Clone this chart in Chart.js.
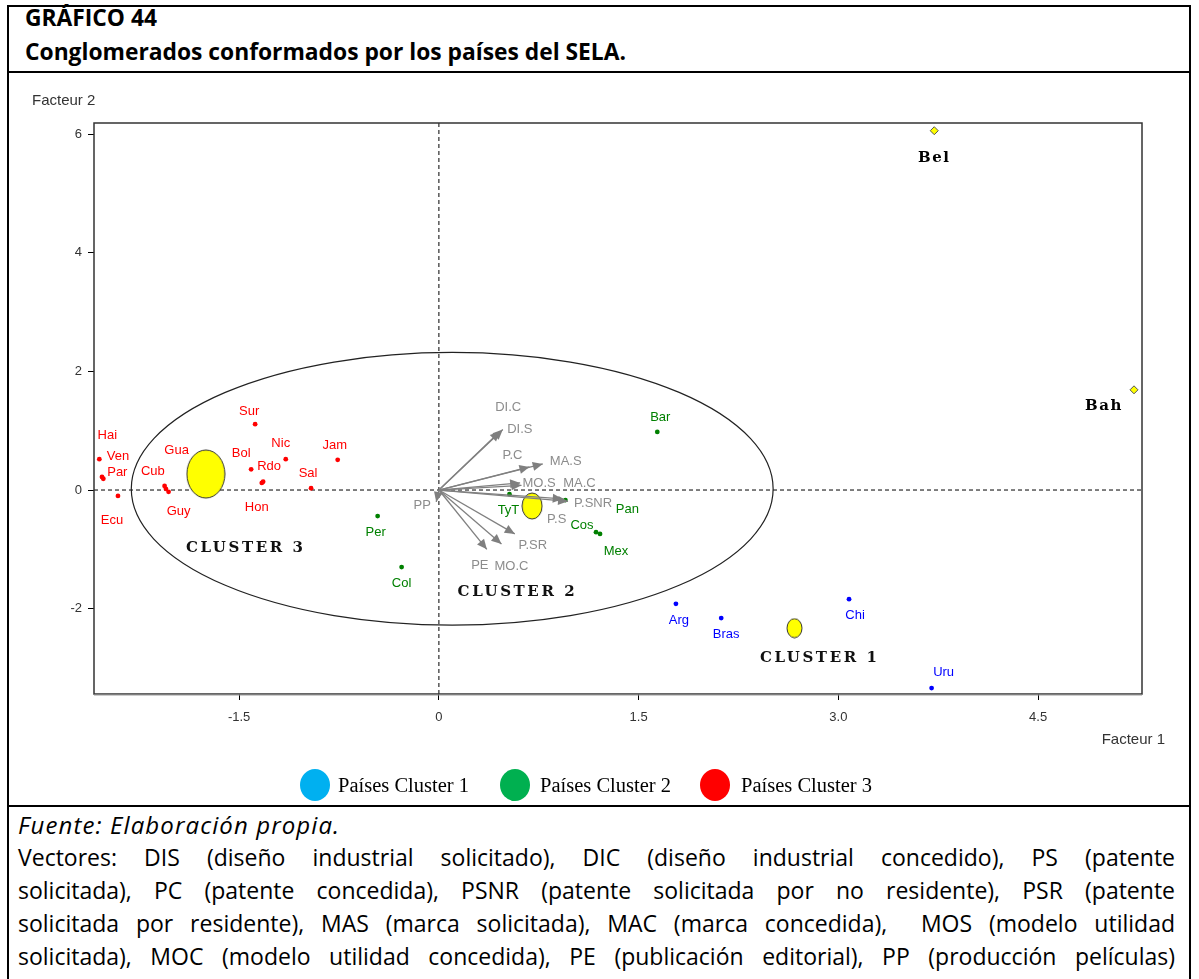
<!DOCTYPE html>
<html lang="es">
<head>
<meta charset="utf-8">
<title>Gráfico 44</title>
<script src="https://cdn.jsdelivr.net/npm/chart.js@4.4.1/dist/chart.umd.min.js"></script>
<style>
  body { margin: 0; background: #fff; width: 1199px; height: 979px; position: relative; overflow: hidden; font-family: 'Open Sans', sans-serif; }
  .abs { position: absolute; }
  #frame { left: 7px; top: 5px; width: 1180px; height: 990px; border: 2px solid #000; border-bottom: none; }
  .rule { left: 7px; width: 1184px; height: 2px; background: #000; }
  .title { left: 25px; font-weight: 700; font-size: 22.8px; line-height: 30px; color: #000; white-space: nowrap; }
  #chartBox { left: 8px; top: 74px; }
  #legend { left: 0; top: 769px; width: 1199px; height: 32px; }
  .dot { position: absolute; width: 30px; height: 32px; border-radius: 50%; top: 0; }
  .leg { position: absolute; top: 0; line-height: 32px; font-family: 'Liberation Serif', 'Times New Roman', serif; font-size: 20.5px; color: #000; white-space: nowrap; }
  #fuente { left: 18px; top: 810px; font-style: italic; font-size: 24px; letter-spacing: 1.1px; line-height: 30px; white-space: nowrap; }
  #notes { left: 18px; top: 841px; width: 1157px; font-size: 23px; line-height: 33px; color: #000; }
  #notes div { text-align: justify; text-align-last: justify; white-space: nowrap; }
</style>
</head>
<body>
<div id="frame" class="abs"></div>
<div class="abs title" style="top:3px">GRÁFICO 44</div>
<div class="abs title" style="top:37px">Conglomerados conformados por los países del SELA.</div>
<div class="abs rule" style="top:71px"></div>
<div id="chartBox" class="abs"><canvas id="chart" width="1182" height="731"></canvas></div>
<div id="legend" class="abs">
  <div class="dot" style="left:300px;background:#00b0f0"></div><div class="leg" style="left:338px">Países Cluster 1</div>
  <div class="dot" style="left:500px;background:#00b050"></div><div class="leg" style="left:540px">Países Cluster 2</div>
  <div class="dot" style="left:700px;background:#ff0000"></div><div class="leg" style="left:741px">Países Cluster 3</div>
</div>
<div class="abs rule" style="top:805px"></div>
<div id="fuente" class="abs">Fuente: Elaboración propia.</div>
<div id="notes" class="abs">
  <div>Vectores: DIS (diseño industrial solicitado), DIC (diseño industrial concedido), PS (patente</div>
  <div>solicitada), PC (patente concedida), PSNR (patente solicitada por no residente), PSR (patente</div>
  <div>solicitada por residente), MAS (marca solicitada), MAC (marca concedida),&nbsp; MOS (modelo utilidad</div>
  <div>solicitada), MOC (modelo utilidad concedida), PE (publicación editorial), PP (producción películas)</div>
</div>

<script>
// axes
const xTicks = [-1.5, 0, 1.5, 3.0, 4.5]
const yTicks = [-2, 0, 2, 4, 6]
const xRange = [-2.59, 5.28]
const yRange = [-3.44, 6.19]

// países por cluster (Facteur 1, Facteur 2)
const cluster1Names = ['Arg', 'Bras', 'Chi', 'Uru']
const cluster1F1 = [1.78, 2.12, 3.08, 3.70]
const cluster1F2 = [-1.92, -2.16, -1.84, -3.34]

const cluster2Names = ['Per', 'Col', 'TyT', 'Bar', 'Pan', 'Cos', 'Mex']
const cluster2F1 = [-0.46, -0.28, 0.53, 1.64, 0.95, 1.18, 1.21]
const cluster2F2 = [-0.44, -1.30, -0.07, 0.98, -0.17, -0.71, -0.74]

const cluster3Names = ['Hai', 'Ven', 'Par', 'Ecu', 'Gua', 'Cub', 'Guy', 'Sur', 'Bol', 'Nic', 'Rdo', 'Hon', 'Sal', 'Jam']
const cluster3F1 = [-2.55, -2.53, -2.52, -2.41, -2.06, -2.05, -2.03, -1.38, -1.41, -1.15, -1.32, -1.33, -0.96, -0.76]
const cluster3F2 = [0.52, 0.22, 0.19, -0.10, 0.07, 0.02, -0.03, 1.11, 0.35, 0.52, 0.14, 0.12, 0.03, 0.51]

const outlierNames = ['Bel', 'Bah']
const outlierF1 = [3.72, 5.22]
const outlierF2 = [6.06, 1.69]

// centros de los conglomerados: cluster 1, 2, 3
const centroidF1 = [2.67, 0.70, -1.75]
const centroidF2 = [-2.33, -0.27, 0.27]
const clusterTitles = ['CLUSTER 1', 'CLUSTER 2', 'CLUSTER 3']
const clusterTitleF1 = [2.86, 0.59, -1.45]
const clusterTitleF2 = [-2.84, -1.72, -0.98]

// vectores
const vectorNames = ['DI.C', 'DI.S', 'P.C', 'MA.S', 'MO.S', 'MA.C', 'P.SNR', 'P.S', 'P.SR', 'MO.C', 'PE', 'PP']
const vectorF1 = [0.46, 0.48, 0.68, 0.78, 0.61, 0.62, 0.97, 0.93, 0.57, 0.47, 0.36, -0.02]
const vectorF2 = [0.99, 1.02, 0.39, 0.44, 0.12, 0.08, -0.19, -0.15, -0.74, -0.91, -1.00, -0.20]

// elipse del cluster 2: centro x, centro y, radio x, radio y
const clusterEllipse = [0.10, 0.02, 2.41, 2.30]

// label placement (pixel offsets from the mark)
const cluster1Offsets = [[3, 17], [5, 16], [6, 16], [12, -16]]
const cluster2Offsets = [[-2, 16], [0, 16], [-1, 16], [3, -14], [62, 9], [-14, -7], [16, 18]]
const cluster3Offsets = [[8, -24], [16, -21], [14, -6], [-6, 24], [12, -35], [-13, -17], [10, 20],
  [-6, -13], [-10, -16], [-5, -16], [6, -15], [-5, 25], [-3, -15], [-3, -14]]
const outlierOffsets = [[0, 27], [-30, 16]]
const vectorOffsets = [[8, -24], [17, 0], [-17, -11], [23, -3], [19, 1], [58, -2], [25, 2], [-6, 20],
  [18, 12], [10, 22], [-7, 16], [-14, 4]]

const toPoints = (xs, ys) => xs.map((v, i) => ({x: v, y: ys[i]}))

const makeBlob = (w, h) => {
  const c = document.createElement('canvas')
  c.width = w + 2
  c.height = h + 2
  const g = c.getContext('2d')
  g.beginPath()
  g.ellipse(c.width / 2, c.height / 2, w / 2, h / 2, 0, 0, Math.PI * 2)
  g.fillStyle = '#ffff00'
  g.fill()
  g.strokeStyle = '#333'
  g.lineWidth = 1
  g.stroke()
  return c
}
const blobs = [makeBlob(15, 19), makeBlob(20, 26), makeBlob(38, 48)]

const labelFont = '13px "Liberation Sans", Arial, sans-serif'
const serifBold = 'bold 15px "DejaVu Serif", serif'

const vectorSets = vectorNames.map((name, i) => ({
  type: 'line',
  data: [{x: 0, y: 0}, {x: vectorF1[i], y: vectorF2[i]}],
  borderColor: '#808080',
  borderWidth: 1.3,
  pointRadius: 0,
  names: [name],
  offsets: [vectorOffsets[i]],
  labelColor: '#8c8c8c',
  labelFont: labelFont,
  arrow: true
}))

const pointSet = (names, xs, ys, offsets, color) => ({
  data: toPoints(xs, ys),
  pointStyle: 'circle',
  pointRadius: 2.4,
  backgroundColor: color,
  borderColor: color,
  borderWidth: 0,
  names: names,
  offsets: offsets,
  labelColor: color,
  labelFont: labelFont
})

const datasets = [
  ...vectorSets,
  {
    data: toPoints(centroidF1, centroidF2),
    pointStyle: blobs,
    pointRadius: 10
  },
  pointSet(cluster1Names, cluster1F1, cluster1F2, cluster1Offsets, '#0000ff'),
  pointSet(cluster2Names, cluster2F1, cluster2F2, cluster2Offsets, '#008000'),
  pointSet(cluster3Names, cluster3F1, cluster3F2, cluster3Offsets, '#ff0000'),
  {
    data: toPoints(outlierF1, outlierF2),
    pointStyle: 'rectRot',
    pointRadius: 4,
    backgroundColor: '#ffff00',
    borderColor: '#555',
    borderWidth: 1,
    names: outlierNames,
    offsets: outlierOffsets,
    labelColor: '#000',
    labelFont: serifBold,
    spacing: '1.5px'
  }
]

const decor = {
  id: 'decor',
  beforeDatasetsDraw(chart) {
    const {ctx, chartArea: a, scales: {x, y}} = chart
    const x0 = x.getPixelForValue(0)
    const y0 = y.getPixelForValue(0)
    ctx.save()
    ctx.strokeStyle = '#000'
    ctx.lineWidth = 1
    ctx.setLineDash([4, 3])
    ctx.beginPath()
    ctx.moveTo(a.left, y0)
    ctx.lineTo(a.right, y0)
    ctx.moveTo(x0, a.top)
    ctx.lineTo(x0, a.bottom)
    ctx.stroke()
    ctx.setLineDash([])
    const [ex, ey, erx, ery] = clusterEllipse
    const cx = x.getPixelForValue(ex)
    const cy = y.getPixelForValue(ey)
    ctx.beginPath()
    ctx.ellipse(cx, cy, x.getPixelForValue(ex + erx) - cx, cy - y.getPixelForValue(ey + ery), 0, 0, Math.PI * 2)
    ctx.strokeStyle = '#222'
    ctx.lineWidth = 1.2
    ctx.stroke()
    ctx.restore()
  },
  afterDatasetsDraw(chart) {
    const {ctx, chartArea: a, scales: {x, y}} = chart
    const hasSpacing = 'letterSpacing' in ctx
    ctx.save()
    chart.data.datasets.forEach((ds, i) => {
      const meta = chart.getDatasetMeta(i)
      if (ds.arrow) {
        const p0 = meta.data[0], p1 = meta.data[1]
        const ang = Math.atan2(p1.y - p0.y, p1.x - p0.x)
        ctx.save()
        ctx.translate(p1.x, p1.y)
        ctx.rotate(ang)
        ctx.beginPath()
        ctx.moveTo(0, 0)
        ctx.lineTo(-10, -4.5)
        ctx.lineTo(-10, 4.5)
        ctx.closePath()
        ctx.fillStyle = '#7f7f7f'
        ctx.fill()
        ctx.restore()
      }
      if (!ds.names) return
      ctx.font = ds.labelFont
      ctx.fillStyle = ds.labelColor
      ctx.textAlign = 'center'
      ctx.textBaseline = 'middle'
      if (hasSpacing) ctx.letterSpacing = ds.spacing || '0px'
      ds.names.forEach((name, j) => {
        const el = meta.data[ds.arrow ? 1 : j]
        const [dx, dy] = ds.offsets[j]
        ctx.fillText(name, el.x + dx, el.y + dy)
      })
    })
    // cluster titles
    ctx.font = 'bold 15px "DejaVu Serif", serif'
    ctx.fillStyle = '#111'
    ctx.textAlign = 'center'
    ctx.textBaseline = 'middle'
    if (hasSpacing) ctx.letterSpacing = '2.6px'
    clusterTitles.forEach((t, i) => {
      ctx.fillText(t, x.getPixelForValue(clusterTitleF1[i]), y.getPixelForValue(clusterTitleF2[i]))
    })
    if (hasSpacing) ctx.letterSpacing = '0px'
    // plot frame
    ctx.strokeStyle = '#333'
    ctx.lineWidth = 1.5
    ctx.strokeRect(a.left, a.top, a.right - a.left, a.bottom - a.top)
    ctx.beginPath()
    ctx.moveTo(a.left, a.bottom + 1)
    ctx.lineTo(a.right, a.bottom + 1)
    ctx.strokeStyle = '#999'
    ctx.lineWidth = 1
    ctx.stroke()
    // axis titles
    ctx.font = '15px "Liberation Sans Narrow", "Liberation Sans", Arial, sans-serif'
    ctx.fillStyle = '#333'
    ctx.textAlign = 'left'
    ctx.fillText('Facteur 2', 24, 27)
    ctx.textAlign = 'right'
    ctx.fillText('Facteur 1', 1157, 666)
    ctx.restore()
  }
}

const tickFont = {family: '"Liberation Sans Narrow", "Liberation Sans", Arial, sans-serif', size: 13}

new Chart(document.getElementById('chart'), {
  type: 'scatter',
  data: {datasets: datasets},
  options: {
    responsive: false,
    animation: false,
    devicePixelRatio: 1,
    events: [],
    layout: {padding: {top: 49, right: 48, left: 0, bottom: 0}},
    plugins: {legend: {display: false}, tooltip: {enabled: false}},
    scales: {
      x: {
        min: xRange[0],
        max: xRange[1],
        afterBuildTicks: axis => { axis.ticks = xTicks.map(v => ({value: v})) },
        afterFit: axis => { axis.height = 111 },
        ticks: {
          font: tickFont,
          color: '#333',
          padding: 10,
          maxRotation: 0,
          callback: v => v === 0 ? '0' : v.toFixed(1)
        },
        grid: {drawOnChartArea: false, tickLength: 6, tickColor: '#000'},
        border: {display: false}
      },
      y: {
        min: yRange[0],
        max: yRange[1],
        afterBuildTicks: axis => { axis.ticks = yTicks.map(v => ({value: v})) },
        afterFit: axis => { axis.width = 86 },
        ticks: {font: tickFont, color: '#333', padding: 6, callback: v => String(v)},
        grid: {drawOnChartArea: false, tickLength: 6, tickColor: '#000'},
        border: {display: false}
      }
    }
  },
  plugins: [decor]
})
</script>
</body>
</html>
